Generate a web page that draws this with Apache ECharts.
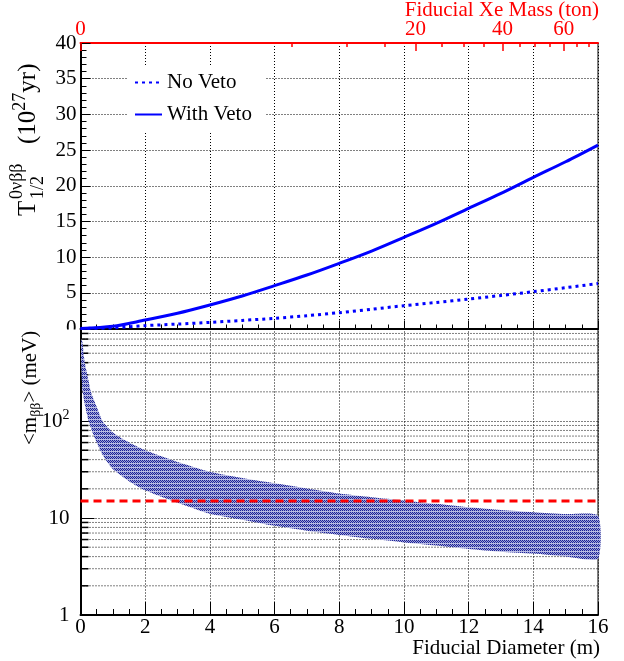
<!DOCTYPE html>
<html lang="en">
<head>
<meta charset="UTF-8">
<script src="https://cdn.jsdelivr.net/npm/echarts@6/dist/echarts.min.js"></script>
<title>Fiducial diameter sensitivity</title>
</head>
<body style="margin:0">
<div id="main" style="width:624px;height:661px;"></div>
<script>
// top panel: half-life sensitivity vs fiducial diameter
var diameter = [0, 1, 2, 3, 4, 5, 6, 7, 8, 9, 10, 11, 12, 13, 14, 15, 16];
var noVeto   = [0, 0.1, 0.4, 0.62, 0.86, 1.13, 1.43, 1.8, 2.22, 2.7, 3.2, 3.65, 4.13, 4.63, 5.16, 5.72, 6.3];
var withVeto = [0, 0.3, 1.19, 2.13, 3.29, 4.55, 6.0, 7.49, 9.13, 10.85, 12.77, 14.73, 16.83, 18.93, 21.18, 23.36, 25.7];

// bottom panel: <m_bb> band
var bandDiameter = [0.02, 0.06, 0.13, 0.25, 0.32, 0.5, 0.68, 1.0, 1.5, 2.0, 2.8, 4, 5, 6, 7, 8, 9, 10, 11, 12, 13, 14, 15, 16];
var bandUpper = [700, 650, 405, 260, 200, 140, 100, 76, 60, 50, 40, 30, 25.8, 22.8, 20.2, 17.9, 16.4, 15.2, 14.0, 12.9, 12.1, 11.5, 11.0, 10.6];
var bandLower = [405, 210, 150, 100, 85, 60, 45, 32, 24, 19.3, 15.2, 11.1, 9.6, 8.3, 7.4, 6.7, 6.1, 5.6, 5.2, 4.8, 4.5, 4.3, 4.0, 3.8];
var mbbLine = 15;

// axis ticks
var massTicks = [0, 20, 40, 60];
var massMinorTicks = [5, 10, 15, 25, 30, 35, 45, 50, 55, 65, 70];
var logMinorTicks = [2, 3, 4, 5, 6, 7, 8, 9, 20, 30, 40, 50, 60, 70, 80, 90, 200, 300, 400, 500, 600, 700, 800, 900];
var tonPerM3 = 0.018; // fiducial mass = tonPerM3 * D^3

var FONT = 'Liberation Serif';
var gridLine = { show: true, lineStyle: { color: '#000', type: [1, 2], width: 1 } };

function massToD(m) { return Math.cbrt(m / tonPerM3); }

// stipple fill like ROOT hatch
var pat = document.createElement('canvas');
pat.width = 2; pat.height = 4;
var pc = pat.getContext('2d');
var dark = '#1c2196', light = '#9fa3d8';
[[dark, light], [light, dark], [dark, light], ['#b9bce4', '#b9bce4']].forEach(function (row, j) {
    row.forEach(function (c, i) { pc.fillStyle = c; pc.fillRect(i, j, 1, 1); });
});

var myChart = echarts.init(document.getElementById('main'));

var option = {
    animation: false,
    backgroundColor: '#fff',
    textStyle: { fontFamily: FONT },
    grid: [
        { left: 80.5, top: 43, width: 517.5, height: 285.5, show: true, borderColor: '#000', borderWidth: 1 },
        { left: 80.5, top: 328.5, width: 517.5, height: 286.5, show: true, borderColor: '#000', borderWidth: 1 }
    ],
    legend: {
        left: 127, top: 65, orient: 'vertical',
        backgroundColor: '#fff', padding: [7, 14, 7, 7], itemGap: 11,
        itemWidth: 27, itemHeight: 14,
        itemStyle: { opacity: 0 },
        textStyle: { fontFamily: FONT, fontSize: 21, color: '#000' },
        data: ['No Veto', 'With Veto']
    },
    xAxis: [
        {
            gridIndex: 0, type: 'value', min: 0, max: 16, interval: 2, position: 'bottom',
            axisLine: { lineStyle: { color: '#000', width: 2 } },
            axisTick: { inside: true, length: 8, lineStyle: { color: '#000' } },
            minorTick: { show: true, splitNumber: 4, length: 4, lineStyle: { color: '#000' } },
            axisLabel: { show: false },
            splitLine: gridLine
        },
        {
            gridIndex: 0, type: 'value', min: 0, max: 16, position: 'top',
            axisLine: { lineStyle: { color: '#ff0000', width: 2 } },
            axisTick: { inside: true, length: 8, customValues: massTicks.map(massToD), lineStyle: { color: '#ff0000', width: 1.5 } },
            axisLabel: {
                customValues: massTicks.map(massToD), color: '#ff0000', fontSize: 21, fontFamily: FONT, margin: 3,
                formatter: function (v) { return String(Math.round(tonPerM3 * v * v * v)); }
            },
            splitLine: { show: false }
        },
        {
            gridIndex: 0, type: 'value', min: 0, max: 16, position: 'top',
            axisLine: { show: false },
            axisTick: { inside: true, length: 4, customValues: massMinorTicks.map(massToD), lineStyle: { color: '#ff0000', width: 1.5 } },
            axisLabel: { show: false },
            splitLine: { show: false }
        },
        {
            gridIndex: 1, type: 'value', min: 0, max: 16, interval: 2, position: 'bottom',
            axisLine: { lineStyle: { color: '#000', width: 2 } },
            axisTick: { inside: true, length: 13, lineStyle: { color: '#000' } },
            minorTick: { show: true, splitNumber: 4, length: 6, lineStyle: { color: '#000' } },
            axisLabel: { color: '#000', fontSize: 21, fontFamily: FONT, margin: 2 },
            splitLine: gridLine
        }
    ],
    yAxis: [
        {
            gridIndex: 0, type: 'value', min: 0, max: 40, interval: 5,
            axisLine: { lineStyle: { color: '#000', width: 2 } },
            axisTick: { inside: true, length: 10, lineStyle: { color: '#000' } },
            minorTick: { show: true, splitNumber: 5, length: 6, lineStyle: { color: '#000' } },
            axisLabel: { color: '#000', fontSize: 21, fontFamily: FONT, margin: 4 },
            splitLine: gridLine
        },
        {
            gridIndex: 1, type: 'log', logBase: 10, min: 1, max: 900,
            axisLine: { lineStyle: { color: '#000', width: 2 } },
            axisTick: { inside: true, length: 14, lineStyle: { color: '#000' } },
            axisLabel: {
                color: '#000', fontSize: 21, fontFamily: FONT, margin: 11,
                formatter: function (v) {
                    if (v === 1) return '1';
                    if (v === 10) return '10';
                    if (v === 100) return '10{sup|2}';
                    return '';
                },
                rich: { sup: { fontSize: 14, fontFamily: FONT, padding: [0, 0, 12, 0] } }
            },
            splitLine: gridLine
        }
    ],
    series: [
        {
            name: 'No Veto', type: 'line', xAxisIndex: 0, yAxisIndex: 0, symbol: 'none', smooth: 0.3,
            lineStyle: { color: '#0000ff', width: 3, type: [3, 4] }, itemStyle: { color: '#0000ff' },
            data: diameter.map(function (d, i) { return [d, noVeto[i]]; }), z: 5
        },
        {
            name: 'With Veto', type: 'line', xAxisIndex: 0, yAxisIndex: 0, symbol: 'none', smooth: 0.3,
            lineStyle: { color: '#0000ff', width: 3 }, itemStyle: { color: '#0000ff' },
            data: diameter.map(function (d, i) { return [d, withVeto[i]]; }), z: 5
        },
        {
            // minor log ticks and grid lines
            type: 'custom', xAxisIndex: 3, yAxisIndex: 1, silent: true, z: 1,
            data: logMinorTicks.map(function (v) { return [0, v]; }),
            renderItem: function (params, api) {
                var v = api.value(1);
                var a = api.coord([0, v]), b = api.coord([16, v]);
                return {
                    type: 'group', children: [
                        { type: 'line', shape: { x1: a[0], y1: a[1], x2: b[0], y2: b[1] }, style: { stroke: '#000', lineWidth: 1, lineDash: [1, 2] } },
                        { type: 'line', shape: { x1: a[0], y1: a[1], x2: a[0] + 8, y2: a[1] }, style: { stroke: '#000', lineWidth: 1.5 } }
                    ]
                };
            }
        },
        {
            // m_bb band
            type: 'custom', xAxisIndex: 3, yAxisIndex: 1, silent: true, z: 3,
            data: [[bandDiameter[0], bandUpper[0]]],
            renderItem: function (params, api) {
                var pts = [];
                bandDiameter.forEach(function (d, i) { pts.push(api.coord([d, bandUpper[i]])); });
                for (var i = bandDiameter.length - 1; i >= 0; i--) pts.push(api.coord([bandDiameter[i], bandLower[i]]));
                return { type: 'polygon', shape: { points: pts, smooth: 0.2 }, style: { fill: { image: pat, repeat: 'repeat' } } };
            }
        },
        {
            type: 'line', xAxisIndex: 3, yAxisIndex: 1, symbol: 'none', z: 6,
            lineStyle: { color: '#ff0000', width: 3, type: [8, 5] },
            data: [[0, mbbLine], [16, mbbLine]]
        }
    ],
    graphic: [
        { type: 'rect', left: 40, top: 329.5, shape: { width: 39, height: 14 }, style: { fill: '#fff' }, z: 100 },
        {
            type: 'text', right: 25, top: 0, z: 100,
            style: { text: 'Fiducial Xe Mass (ton)', fill: '#ff0000', font: '21px "Liberation Serif"' }
        },
        {
            type: 'text', right: 24, top: 638, z: 100,
            style: { text: 'Fiducial Diameter (m)', fill: '#000', font: '21px "Liberation Serif"' }
        },
        {
            type: 'group', x: 28, y: 216, rotation: Math.PI / 2, z: 100,
            children: [
                { type: 'text', x: 0, y: 0, style: { text: 'T', fill: '#000', font: '25px "Liberation Serif"', align: 'left', verticalAlign: 'middle', textAlign: 'left', textVerticalAlign: 'middle' } },
                { type: 'text', x: 17, y: -11, style: { text: '0νββ', fill: '#000', font: '18px "Liberation Serif"', align: 'left', verticalAlign: 'middle', textAlign: 'left', textVerticalAlign: 'middle' } },
                { type: 'text', x: 17, y: 10, style: { text: '1/2', fill: '#000', font: '18px "Liberation Serif"', align: 'left', verticalAlign: 'middle', textAlign: 'left', textVerticalAlign: 'middle' } },
                {
                    type: 'text', x: 72, y: 0, style: {
                        text: '(10{sup|27}yr)', fill: '#000', font: '25px "Liberation Serif"', align: 'left', verticalAlign: 'middle', textAlign: 'left', textVerticalAlign: 'middle',
                        rich: { sup: { fontSize: 18, fontFamily: FONT, padding: [0, 0, 15, 0] } }
                    }
                }
            ]
        },
        {
            type: 'group', x: 30, y: 445, rotation: Math.PI / 2, z: 100,
            children: [
                {
                    type: 'text', x: 0, y: 0, style: {
                        text: '<m{sub|ββ}> (meV)', fill: '#000', font: '21px "Liberation Serif"', align: 'left', verticalAlign: 'middle', textAlign: 'left', textVerticalAlign: 'middle',
                        rich: { sub: { fontSize: 14, fontFamily: FONT, padding: [12, 0, 0, 0] } }
                    }
                }
            ]
        }
    ]
};
myChart.setOption(option);
</script>
</body>
</html>
